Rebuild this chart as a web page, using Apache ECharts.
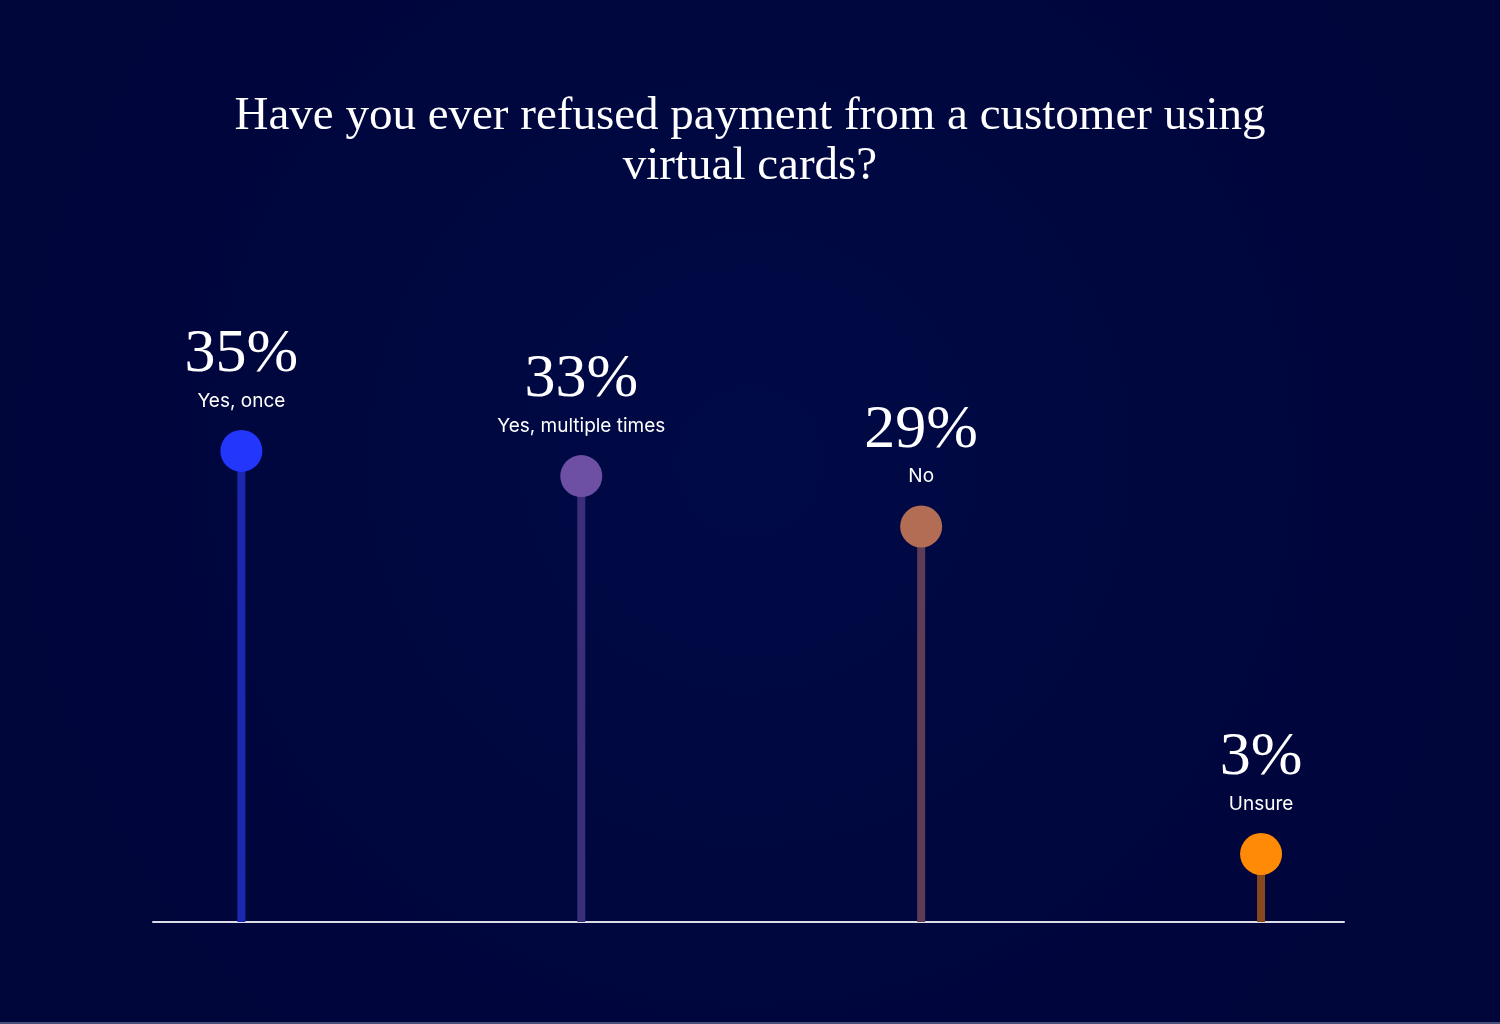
<!DOCTYPE html>
<html>
<head>
<meta charset="utf-8">
<script src="https://cdn.jsdelivr.net/npm/echarts@6/dist/echarts.min.js"></script>
<style>
html,body{margin:0;padding:0;background:#000638;}
#chart{width:1500px;height:1024px;}
</style>
</head>
<body>
<div id="chart"></div>
<script>
const titleLines = ['Have you ever refused payment from a customer using', 'virtual cards?'];
const categories = ['Yes, once', 'Yes, multiple times', 'No', 'Unsure'];
const values = [35, 33, 29, 3];
const dotColors = ['#2236fc', '#6d4fa3', '#b46d55', '#ff8a05'];
const stemColors = ['#1b28b0', '#3b2f7c', '#5f3c56', '#86491f'];

const yMin = -2.4, yMax = 50;

const chart = echarts.init(document.getElementById('chart'), null, {renderer: 'canvas'});

const points = values.map((v, i) => ({
  value: [i, v],
  itemStyle: {color: dotColors[i], opacity: 1},
  label: {formatter: '{p|' + v + '%}\n{c|' + categories[i] + '}'}
}));

chart.setOption({
  backgroundColor: {
    type: 'radial', x: 0.5, y: 0.45, r: 0.75,
    colorStops: [
      {offset: 0, color: '#000a46'},
      {offset: 1, color: '#00053a'}
    ]
  },
  title: {
    text: titleLines.join('\n'),
    left: 'center',
    top: 87,
    textStyle: {
      color: '#ffffff',
      fontFamily: 'Liberation Serif',
      fontWeight: 'normal',
      fontSize: 47,
      lineHeight: 50
    }
  },
  grid: {left: 153, right: 156, top: 262, bottom: 102, containLabel: false},
  xAxis: {
    type: 'value', min: -0.26, max: 3.244,
    axisLine: {show: true, onZero: false, lineStyle: {color: '#dcdce8', width: 2}},
    axisTick: {show: false}, axisLabel: {show: false}, splitLine: {show: false}
  },
  yAxis: {
    type: 'value', min: yMin, max: yMax,
    axisLine: {show: false}, axisTick: {show: false}, axisLabel: {show: false}, splitLine: {show: false}
  },
  graphic: [{
    type: 'rect', left: 0, top: 1022, shape: {width: 1500, height: 2},
    style: {fill: '#4a4f7a'}, silent: true
  }],
  series: [
    {
      type: 'custom',
      z: 2,
      renderItem: function (params, api) {
        const i = api.value(0);
        const top = api.coord([i, api.value(1)]);
        const bottom = api.coord([i, yMin]);
        return {
          type: 'rect',
          shape: {x: top[0] - 4, y: top[1], width: 8, height: bottom[1] - top[1]},
          style: {fill: stemColors[i]}
        };
      },
      data: values.map((v, i) => [i, v]),
      silent: true
    },
    {
      type: 'scatter',
      z: 3,
      symbol: 'circle',
      symbolSize: 42,
      itemStyle: {opacity: 1},
      data: points,
      label: {
        show: true,
        position: 'top',
        distance: 14,
        align: 'center',
        opacity: 1,
        rich: {
          p: {color: '#ffffff', fontFamily: 'Liberation Serif', fontSize: 62, lineHeight: 62, align: 'center'},
          c: {color: '#ffffff', fontFamily: 'Inter', fontSize: 19, lineHeight: 30, align: 'center'}
        }
      },
      silent: true
    }
  ]
});
</script>
</body>
</html>
